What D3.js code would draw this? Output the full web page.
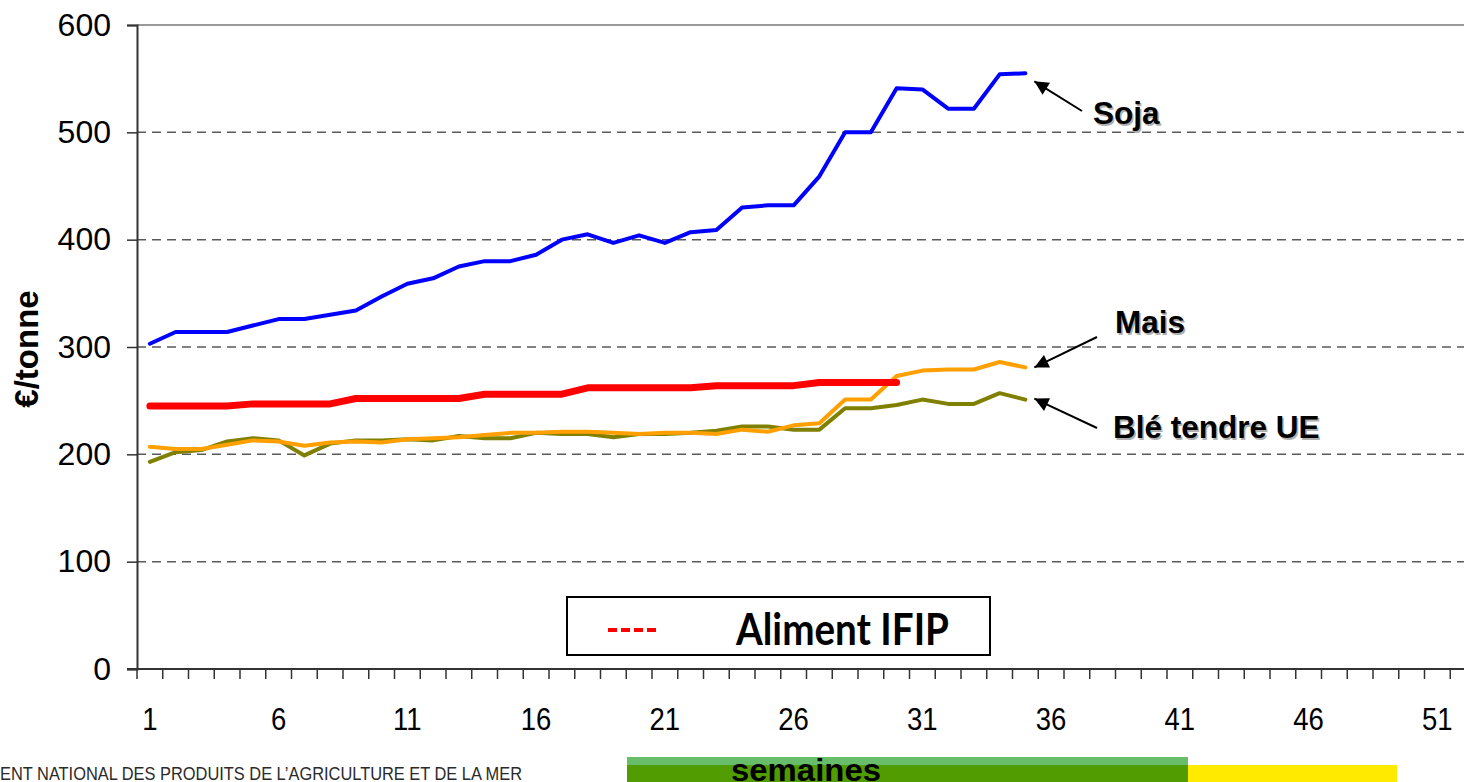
<!DOCTYPE html>
<html>
<head>
<meta charset="utf-8">
<script src="https://cdn.jsdelivr.net/npm/d3@7"></script>
<style>
  body { margin: 0; background: #fff; overflow: hidden; }
  svg { display: block; font-family: "Liberation Sans", Arial, sans-serif; }
</style>
</head>
<body>
<div id="chart"></div>
<script>
var width = 1464;
var height = 782;

// weeks 1..52 on the x axis
var weeks = d3.range(1, 53);
var xTickLabels = [1, 6, 11, 16, 21, 26, 31, 36, 41, 46, 51];
var yTicks = [0, 100, 200, 300, 400, 500, 600];

// €/tonne per week
var soja = [303, 314, 314, 314, 320, 326, 326, 330, 334, 347, 359, 364, 375, 380, 380, 386, 400, 405, 397, 404,
    397, 407, 409, 430, 432, 432, 459, 500, 500, 541, 540, 522, 522, 554, 555];
var mais = [207, 205, 205, 209, 213, 212, 208, 211, 212, 211, 214, 215, 216, 218, 220, 220, 221, 221, 220, 219,
    220, 220, 219, 223, 221, 227, 229, 251, 251, 273, 278, 279, 279, 286, 281];
var ble = [193, 202, 204, 212, 215, 213, 199, 210, 213, 213, 214, 213, 217, 215, 215, 220, 219, 219, 216, 219,
    219, 220, 222, 226, 226, 223, 223, 243, 243, 246, 251, 247, 247, 257, 251];
var aliment = [245, 245, 245, 245, 247, 247, 247, 247, 252, 252, 252, 252, 252, 256, 256, 256, 256, 262, 262, 262,
    262, 262, 264, 264, 264, 264, 267, 267, 267, 267];

var series = [
    { name: "Blé tendre UE", values: ble, color: "#808000", width: 4 },
    { name: "Mais", values: mais, color: "#ff9f00", width: 4 },
    { name: "Aliment IFIP", values: aliment, color: "#ff0000", width: 7 },
    { name: "Soja", values: soja, color: "#0000ff", width: 4 }
];

var plotLeft = 137, plotTop = 25, plotBottom = 669;
var step = 25.75;

var x = d3.scaleBand()
    .domain(weeks)
    .range([plotLeft, plotLeft + step * weeks.length]);

var y = d3.scaleLinear()
    .domain([0, 600])
    .range([plotBottom, plotTop]);

var svg = d3.select("#chart")
    .append("svg")
    .attr("width", width)
    .attr("height", height);

// gridlines
svg.append("g")
    .selectAll("line")
    .data(yTicks.filter(function (d) { return d > 0; }))
    .enter()
    .append("line")
    .attr("x1", plotLeft)
    .attr("x2", plotLeft + step * weeks.length)
    .attr("y1", function (d) { return y(d); })
    .attr("y2", function (d) { return y(d); })
    .style("stroke", function (d) { return d == 600 ? "#9a9a9a" : "#5a5a5a"; })
    .style("stroke-width", function (d) { return d == 600 ? 2 : 1.5; })
    .style("stroke-dasharray", function (d) { return d == 600 ? null : "9,6"; });

// y axis
var yAxis = svg.append("g")
    .attr("transform", "translate(" + plotLeft + ",0)")
    .call(d3.axisLeft(y).tickValues(yTicks).tickSize(10).tickPadding(16));
yAxis.select(".domain").style("stroke", "#333").style("stroke-width", 2);
yAxis.selectAll(".tick line").style("stroke", "#333").style("stroke-width", 1.5);
yAxis.selectAll("text")
    .style("font-size", "32px")
    .style("fill", "#000")
    .style("font-family", "'Liberation Sans', Arial, sans-serif");

// x axis: ticks between weeks, labels every 5 weeks
var xAxis = svg.append("g")
    .attr("transform", "translate(0," + plotBottom + ")");
xAxis.append("line")
    .attr("x1", plotLeft - 10)
    .attr("x2", width)
    .attr("y1", 0)
    .attr("y2", 0)
    .style("stroke", "#333")
    .style("stroke-width", 2);
xAxis.selectAll(".tk")
    .data(weeks)
    .enter()
    .append("line")
    .attr("class", "tk")
    .attr("x1", function (d) { return x(d); })
    .attr("x2", function (d) { return x(d); })
    .attr("y1", 0)
    .attr("y2", 10)
    .style("stroke", "#333")
    .style("stroke-width", 1.5);
xAxis.selectAll(".lbl")
    .data(xTickLabels)
    .enter()
    .append("text")
    .attr("class", "lbl")
    .attr("transform", function (d) {
        return "translate(" + (x(d) + x.bandwidth() / 2) + ",61) scale(0.86,1)";
    })
    .attr("text-anchor", "middle")
    .style("font-size", "32px")
    .text(function (d) { return d; });

// y title
svg.append("text")
    .attr("transform", "translate(38,349) rotate(-90)")
    .attr("text-anchor", "middle")
    .style("font-size", "33px")
    .style("font-weight", "bold")
    .text("€/tonne");

// lines
var line = d3.line()
    .x(function (d, i) { return x(weeks[i]) + x.bandwidth() / 2; })
    .y(function (d) { return y(d); });

svg.append("g")
    .selectAll("path")
    .data(series)
    .enter()
    .append("path")
    .attr("d", function (d) { return line(d.values); })
    .style("fill", "none")
    .style("stroke", function (d) { return d.color; })
    .style("stroke-width", function (d) { return d.width; })
    .style("stroke-linejoin", "round")
    .style("stroke-linecap", "round");

// annotations with arrows
svg.append("defs")
    .append("marker")
    .attr("id", "arrow")
    .attr("viewBox", "0 0 10 10")
    .attr("refX", 10)
    .attr("refY", 5)
    .attr("markerUnits", "userSpaceOnUse")
    .attr("markerWidth", 16)
    .attr("markerHeight", 14)
    .attr("orient", "auto")
    .append("path")
    .attr("d", "M0,0 L10,5 L0,10 z")
    .style("fill", "#000");

var notes = [
    { text: "Soja", values: soja, dy: 8, from: [1082, 111], tx: 1093, ty: 124 },
    { text: "Mais", values: mais, dy: 0, from: [1097, 337], tx: 1115, ty: 333 },
    { text: "Blé tendre UE", values: ble, dy: -1, from: [1097, 428], tx: 1113, ty: 438 }
];

notes.forEach(function (n) {
    var last = n.values.length - 1;
    var tipX = x(weeks[last]) + x.bandwidth() / 2 + 9;
    var tipY = y(n.values[last]) + n.dy;
    svg.append("line")
        .attr("x1", n.from[0])
        .attr("y1", n.from[1])
        .attr("x2", tipX)
        .attr("y2", tipY)
        .style("stroke", "#000")
        .style("stroke-width", 2)
        .attr("marker-end", "url(#arrow)");
    // soft shadow then text
    svg.append("text")
        .attr("x", n.tx + 1.5)
        .attr("y", n.ty + 1.5)
        .style("font-size", "31.5px")
        .style("font-weight", "bold")
        .style("fill", "#b0b0b0")
        .text(n.text);
    svg.append("text")
        .attr("x", n.tx)
        .attr("y", n.ty)
        .style("font-size", "31.5px")
        .style("font-weight", "bold")
        .style("fill", "#000")
        .text(n.text);
});

// legend box
var legend = svg.append("g");
legend.append("rect")
    .attr("x", 567)
    .attr("y", 597)
    .attr("width", 423)
    .attr("height", 58)
    .style("fill", "#fff")
    .style("stroke", "#000")
    .style("stroke-width", 2);
legend.append("line")
    .attr("x1", 608)
    .attr("x2", 657)
    .attr("y1", 630)
    .attr("y2", 630)
    .style("stroke", "#ff0000")
    .style("stroke-width", 4)
    .style("stroke-dasharray", "9,4");
legend.append("text")
    .attr("x", 736)
    .attr("y", 645)
    .attr("textLength", 213)
    .attr("lengthAdjust", "spacingAndGlyphs")
    .style("font-family", "Lato, 'Open Sans', sans-serif")
    .style("font-size", "43px")
    .style("font-weight", "bold")
    .text("Aliment IFIP");

// footer strip
svg.append("text")
    .attr("x", 0)
    .attr("y", 780)
    .attr("textLength", 522)
    .attr("lengthAdjust", "spacingAndGlyphs")
    .style("font-size", "19px")
    .style("fill", "#2a2a2a")
    .text("ENT NATIONAL DES PRODUITS DE L’AGRICULTURE ET DE LA MER");

svg.append("rect").attr("x", 627).attr("y", 757).attr("width", 561).attr("height", 8).style("fill", "#68bd6b");
svg.append("rect").attr("x", 627).attr("y", 765).attr("width", 561).attr("height", 17).style("fill", "#519c00");
svg.append("rect").attr("x", 1188).attr("y", 765).attr("width", 209).attr("height", 17).style("fill", "#ffea00");

svg.append("text")
    .attr("x", 731)
    .attr("y", 781)
    .attr("textLength", 150)
    .attr("lengthAdjust", "spacingAndGlyphs")
    .style("font-size", "31px")
    .style("font-weight", "bold")
    .text("semaines");
</script>
</body>
</html>
